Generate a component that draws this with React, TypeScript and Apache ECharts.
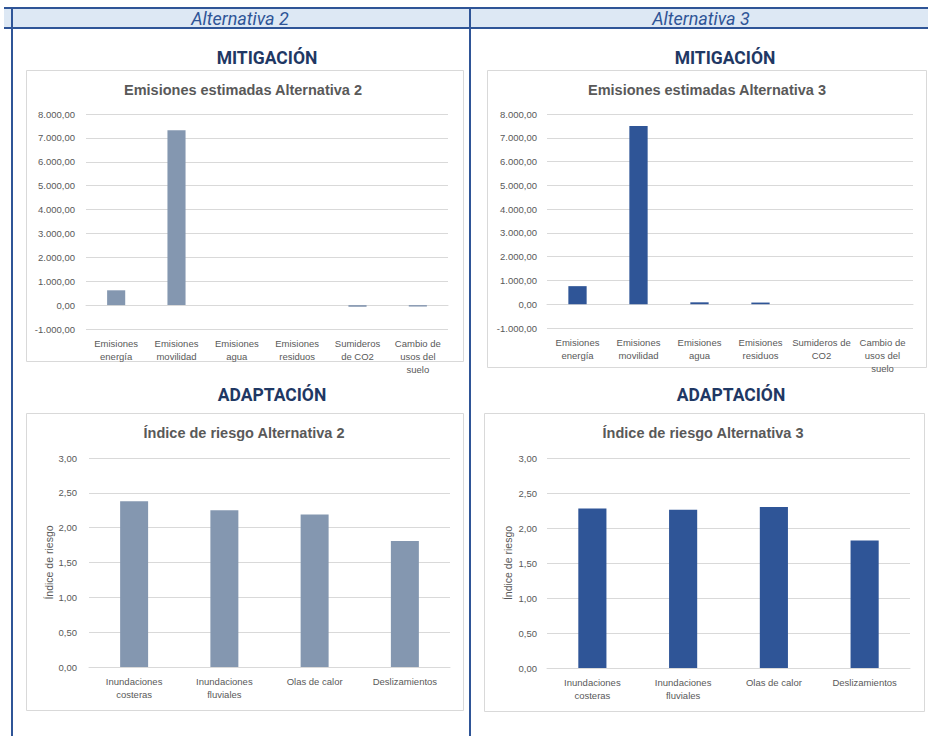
import React, { useEffect, useRef } from "react";
import * as echarts from "echarts";

// ---------- data ----------
const headerLabels = ["Alternativa 2", "Alternativa 3"];
const sectionLabels = ["MITIGACIÓN", "ADAPTACIÓN"];
const mitigationTitles = ["Emisiones estimadas Alternativa 2", "Emisiones estimadas Alternativa 3"];
const riskTitles = ["Índice de riesgo Alternativa 2", "Índice de riesgo Alternativa 3"];
const riskAxisName = "Índice de riesgo";

const mitigationCategoriesAlt2 = [
  "Emisiones\nenergía",
  "Emisiones\nmovilidad",
  "Emisiones\nagua",
  "Emisiones\nresiduos",
  "Sumideros\nde CO2",
  "Cambio de\nusos del\nsuelo",
];
const mitigationCategoriesAlt3 = [
  "Emisiones\nenergía",
  "Emisiones\nmovilidad",
  "Emisiones\nagua",
  "Emisiones\nresiduos",
  "Sumideros de\nCO2",
  "Cambio de\nusos del\nsuelo",
];
const emissionsAlt2 = [620, 7320, 0, 0, -70, -60];
const emissionsAlt3 = [760, 7500, 80, 70, 0, 0];

const riskCategories = ["Inundaciones\ncosteras", "Inundaciones\nfluviales", "Olas de calor", "Deslizamientos"];
const riskAlt2 = [2.38, 2.25, 2.19, 1.81];
const riskAlt3 = [2.28, 2.26, 2.3, 1.82];

const emissionsAxis = { min: -1000, max: 8000, interval: 1000 };
const riskAxis = { min: 0, max: 3, interval: 0.5 };

// ---------- styles ----------
const colorAlt2 = "#8497b0";
const colorAlt3 = "#2f5597";
const frameBlue = "#2f5597";
const navy = "#1f3864";
const textGray = "#595959";
const gridGray = "#d9d9d9";
const labelFont = "'Liberation Sans', Arial, sans-serif";

function esNumber(v: number): string {
  const neg = v < 0;
  const abs = Math.abs(v);
  const fixed = abs.toFixed(2);
  const [intPart, dec] = fixed.split(".");
  const withDots = intPart.replace(/\B(?=(\d{3})+(?!\d))/g, ".");
  return (neg ? "-" : "") + withDots + "," + dec;
}

export default function App() {
  const ref = useRef<HTMLDivElement>(null);

  useEffect(() => {
    if (!ref.current) return;
    const chart = echarts.init(ref.current, null, { renderer: "svg" });

    const grids = [
      { left: 86, top: 114, width: 362, height: 215 },
      { left: 547, top: 114, width: 366, height: 214 },
      { left: 89, top: 458, width: 361, height: 209 },
      { left: 547, top: 458, width: 363, height: 210 },
    ];

    const catAxis = (gridIndex: number, data: string[]) => ({
      type: "category",
      gridIndex,
      data,
      axisLine: { onZero: true, lineStyle: { color: gridGray, width: 1 } },
      axisTick: { show: false },
      axisLabel: {
        interval: 0,
        color: textGray,
        fontSize: 9.5,
        fontFamily: labelFont,
        lineHeight: 13,
        margin: 8,
      },
    });

    const valAxis = (gridIndex: number, range: any, margin: number, name?: string) => ({
      type: "value",
      gridIndex,
      min: range.min,
      max: range.max,
      interval: range.interval,
      name: name || "",
      nameLocation: "middle",
      nameGap: 34,
      nameTextStyle: { color: textGray, fontSize: 10.5, fontFamily: labelFont },
      axisLine: { show: false },
      axisTick: { show: false },
      splitLine: { lineStyle: { color: gridGray, width: 1 } },
      axisLabel: {
        color: textGray,
        fontSize: 9.5,
        fontFamily: labelFont,
        margin,
        formatter: (v: number) => esNumber(v),
      },
    });

    const boxes = [
      { x: 26, y: 70, w: 437, h: 291 },
      { x: 487, y: 70, w: 439, h: 297 },
      { x: 26, y: 413, w: 437, h: 297 },
      { x: 484, y: 413, w: 440, h: 298 },
    ];

    const textEl = (text: string, x: number, y: number, opts: any) => ({
      type: "text",
      x,
      y,
      z: 10,
      style: {
        text,
        align: "center",
        verticalAlign: "middle",
        ...opts,
      },
    });

    const headerStyle = {
      fill: frameBlue,
      fontSize: 18,
      fontStyle: "italic",
      fontFamily: "Roboto, sans-serif",
    };
    const sectionStyle = { fill: navy, fontSize: 17.5, fontWeight: "bold", fontFamily: "Roboto, sans-serif" };
    const titleStyle = { fill: textGray, fontSize: 14.5, fontWeight: "bold", fontFamily: labelFont };

    const graphic: any[] = [
      // header band
      {
        type: "rect",
        shape: { x: 4, y: 8, width: 924, height: 20 },
        style: { fill: "#dde8f4", stroke: "none" },
        z: -5,
      },
      { type: "line", shape: { x1: 4, y1: 8, x2: 928, y2: 8 }, style: { stroke: frameBlue, lineWidth: 2 } },
      { type: "line", shape: { x1: 4, y1: 28, x2: 928, y2: 28 }, style: { stroke: frameBlue, lineWidth: 2 } },
      { type: "line", shape: { x1: 12, y1: 8, x2: 12, y2: 736 }, style: { stroke: frameBlue, lineWidth: 2 } },
      { type: "line", shape: { x1: 470, y1: 8, x2: 470, y2: 736 }, style: { stroke: frameBlue, lineWidth: 2 } },
      textEl(headerLabels[0], 240, 18, headerStyle),
      textEl(headerLabels[1], 701, 18, headerStyle),
      textEl(sectionLabels[0], 267, 58, sectionStyle),
      textEl(sectionLabels[0], 725, 58, sectionStyle),
      textEl(sectionLabels[1], 272, 395, sectionStyle),
      textEl(sectionLabels[1], 731, 395, sectionStyle),
      ...boxes.map((b) => ({
        type: "rect",
        shape: { x: b.x + 0.5, y: b.y + 0.5, width: b.w, height: b.h },
        style: { fill: "none", stroke: gridGray, lineWidth: 1 },
        z: -1,
      })),
      textEl(mitigationTitles[0], 243, 90, titleStyle),
      textEl(mitigationTitles[1], 707, 90, titleStyle),
      textEl(riskTitles[0], 244, 433, titleStyle),
      textEl(riskTitles[1], 703, 433, titleStyle),
    ];

    chart.setOption({
      animation: false,
      backgroundColor: "#ffffff",
      grid: grids.map((g) => ({ ...g, containLabel: false })),
      xAxis: [
        catAxis(0, mitigationCategoriesAlt2),
        catAxis(1, mitigationCategoriesAlt3),
        catAxis(2, riskCategories),
        catAxis(3, riskCategories),
      ],
      yAxis: [
        valAxis(0, emissionsAxis, 11),
        valAxis(1, emissionsAxis, 10),
        valAxis(2, riskAxis, 12, riskAxisName),
        valAxis(3, riskAxis, 10, riskAxisName),
      ],
      series: [
        { type: "bar", xAxisIndex: 0, yAxisIndex: 0, data: emissionsAlt2, barWidth: "30%", itemStyle: { color: colorAlt2 } },
        { type: "bar", xAxisIndex: 1, yAxisIndex: 1, data: emissionsAlt3, barWidth: "30%", itemStyle: { color: colorAlt3 } },
        { type: "bar", xAxisIndex: 2, yAxisIndex: 2, data: riskAlt2, barWidth: "31%", itemStyle: { color: colorAlt2 } },
        { type: "bar", xAxisIndex: 3, yAxisIndex: 3, data: riskAlt3, barWidth: "31%", itemStyle: { color: colorAlt3 } },
      ],
      graphic,
    });

    return () => chart.dispose();
  }, []);

  return (
    <div
      ref={ref}
      style={{ position: "absolute", left: 0, top: 0, width: 928, height: 736 }}
    />
  );
}
